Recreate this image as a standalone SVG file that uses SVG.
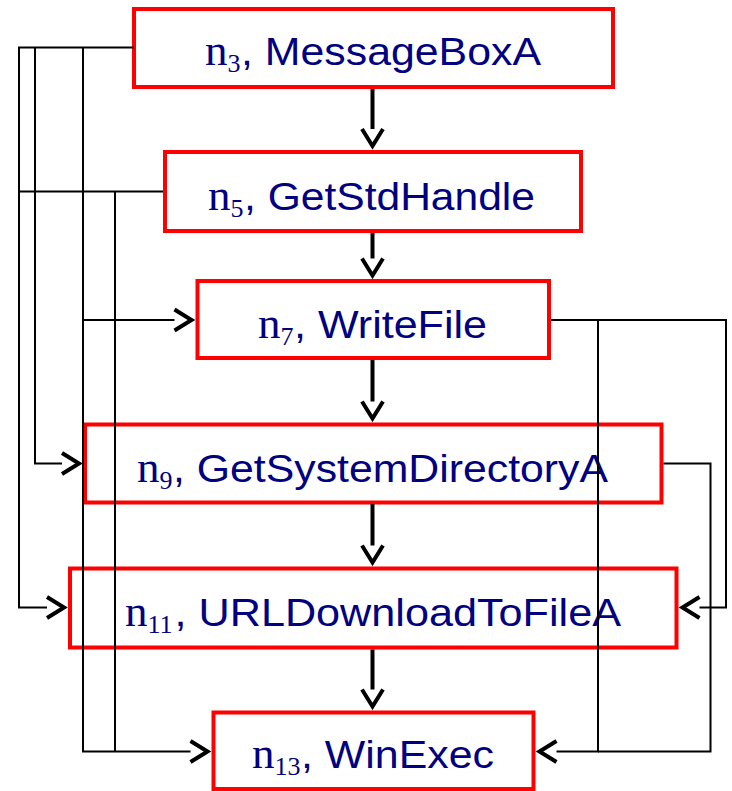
<svg xmlns="http://www.w3.org/2000/svg" width="732" height="791" viewBox="0 0 732 791">
  <style>
    .box { fill: #fff; stroke: #ff0000; stroke-width: 4; }
    .n { font-family: "Liberation Serif", "Times New Roman", serif; font-size: 45px; fill: #000080; }
    .sub { font-size: 26px; }
    .lbl { font-family: "Liberation Sans", Arial, sans-serif; font-size: 38px; fill: #000080; }
    .edge { fill: none; stroke: #000; stroke-width: 2; }
    .seq { fill: none; stroke: #000; stroke-width: 4; }
  </style>
  <defs>
    <marker id="ah" markerUnits="userSpaceOnUse" orient="auto" overflow="visible" markerWidth="1" markerHeight="1" refX="0" refY="0">
      <path d="M0,-10.5 L17,0 L0,10.5" fill="none" stroke="#000" stroke-width="4" stroke-linejoin="miter"/>
    </marker>
  </defs>

  <!-- nodes -->
  <g id="n3">
    <rect class="box" x="134" y="9" width="479" height="78"/>
    <text class="n" x="205" y="65">n<tspan class="sub" dy="7">3</tspan></text>
    <text class="lbl" x="241" y="65" textLength="300" lengthAdjust="spacingAndGlyphs">, MessageBoxA</text>
  </g>
  <g id="n5">
    <rect class="box" x="165" y="152" width="416" height="79"/>
    <text class="n" x="208" y="210">n<tspan class="sub" dy="7">5</tspan></text>
    <text class="lbl" x="244" y="210" textLength="291" lengthAdjust="spacingAndGlyphs">, GetStdHandle</text>
  </g>
  <g id="n7">
    <rect class="box" x="197.5" y="281" width="351.5" height="77"/>
    <text class="n" x="258" y="338">n<tspan class="sub" dy="7">7</tspan></text>
    <text class="lbl" x="294" y="338" textLength="193" lengthAdjust="spacingAndGlyphs">, WriteFile</text>
  </g>
  <g id="n9">
    <rect class="box" x="85" y="424.5" width="576.5" height="78"/>
    <text class="n" x="137" y="482">n<tspan class="sub" dy="7">9</tspan></text>
    <text class="lbl" x="173" y="482" textLength="435" lengthAdjust="spacingAndGlyphs">, GetSystemDirectoryA</text>
  </g>
  <g id="n11">
    <rect class="box" x="70" y="568.5" width="606.5" height="79"/>
    <text class="n" x="125" y="626">n<tspan class="sub" dy="7">11</tspan></text>
    <text class="lbl" x="174.5" y="626" textLength="446.5" lengthAdjust="spacingAndGlyphs">, URLDownloadToFileA</text>
  </g>
  <g id="n13">
    <rect class="box" x="213.5" y="712.5" width="320" height="76.5"/>
    <text class="n" x="252" y="768">n<tspan class="sub" dy="7">13</tspan></text>
    <text class="lbl" x="301" y="768" textLength="193" lengthAdjust="spacingAndGlyphs">, WinExec</text>
  </g>

  <!-- connectors -->
  <g id="edges">
    <!-- straight chain down the middle -->
    <path class="seq" d="M372.5,89 V129" marker-end="url(#ah)"/>
    <path class="seq" d="M372.5,233 V258.5" marker-end="url(#ah)"/>
    <path class="seq" d="M372.5,360 V401.5" marker-end="url(#ah)"/>
    <path class="seq" d="M372.5,504 V545.5" marker-end="url(#ah)"/>
    <path class="seq" d="M372.5,649.5 V689.5" marker-end="url(#ah)"/>

    <!-- left-hand bus -->
    <path class="edge" d="M134,47.5 H19 V607.5 H47" marker-end="url(#ah)"/>
    <path class="edge" d="M35,47.5 V463.5 H62" marker-end="url(#ah)"/>
    <path class="edge" d="M83,47.5 V751.5 H190.5" marker-end="url(#ah)"/>
    <path class="edge" d="M83,320 H174.5" marker-end="url(#ah)"/>
    <path class="edge" d="M163,191.5 H19"/>
    <path class="edge" d="M115,191.5 V751.5"/>

    <!-- right-hand bus -->
    <path class="edge" d="M551,320 H726 V607.5 H699.5" marker-end="url(#ah)"/>
    <path class="edge" d="M598,320 V751.5 H556.5" marker-end="url(#ah)"/>
    <path class="edge" d="M663.5,463.5 H710.5 V751.5 H598"/>
  </g>
</svg>
